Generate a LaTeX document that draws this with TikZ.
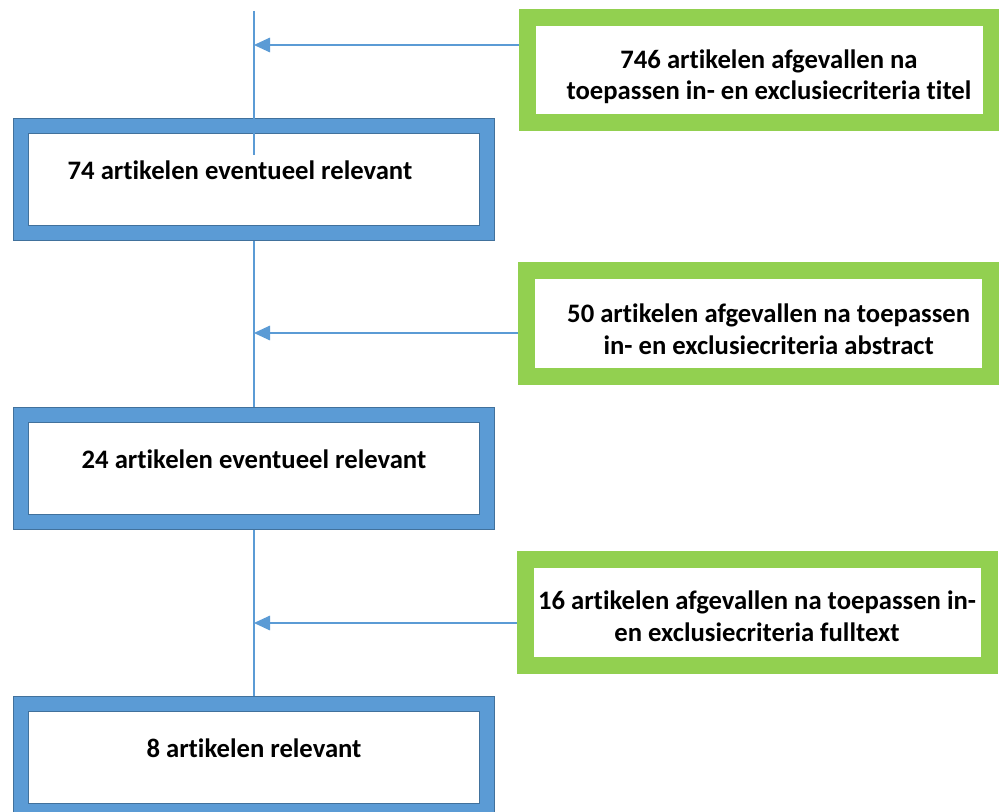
\documentclass[tikz,border=0pt]{standalone}
\usepackage{fontspec}
\setmainfont{Carlito}[Ligatures=NoCommon]
\usetikzlibrary{arrows.meta}
\usetikzlibrary{positioning}
\usetikzlibrary{backgrounds}

\definecolor{stepblue}{HTML}{5B9BD5}
\definecolor{stepedge}{HTML}{41719C}
\definecolor{dropgreen}{HTML}{92D050}

\tikzset{
  keepbox/.style={rectangle, fill=white, draw=stepedge, line width=0.9pt, double=stepblue, double distance=10.5pt, minimum width=349.5pt, minimum height=80.25pt, inner sep=0pt, outer sep=0pt},
  dropbox/.style={rectangle, fill=white, draw=dropgreen, line width=12.75pt, minimum width=348pt, minimum height=79pt, inner sep=0pt, outer sep=0pt},
  boxtext/.style={font=\bfseries\fontsize{20}{23.8}\selectfont, align=center, anchor=base, inner sep=0pt},
  flow/.style={draw=stepblue, line width=0.8pt},
  flowarrow/.style={flow, -{Triangle[length=12pt, width=11pt]}}
}

\begin{document}
\begin{tikzpicture}[x=0.75pt, y=-0.75pt, node distance=136.5pt]
    \useasboundingbox (0,0) rectangle (999,812);

    \node[keepbox] (keep1) at (254,179.5) {};
    \node[keepbox, below=of keep1] (keep2) {};
    \node[keepbox, below=of keep2] (keep3) {};

    \node[dropbox] (drop1) at (759,69.75) {};
    \node[dropbox] (drop2) at (758,323.5) {};
    \node[dropbox] (drop3) at (757,612.5) {};

    \node[boxtext] (keep1text) at ([xshift=-10.5pt]keep1.center) {74 artikelen eventueel relevant};
    \node[boxtext] (keep2text) at (keep2.center) {24 artikelen eventueel relevant};
    \node[boxtext] (keep3text) at (keep3.center) {8 artikelen relevant};

    % base anchor sits on the last line
    \node[boxtext] (drop1text) at ([xshift=7.5pt, yshift=-22.5pt]drop1.center) {746 artikelen afgevallen na\\toepassen in- en exclusiecriteria titel};
    \node[boxtext] (drop2text) at ([xshift=8pt, yshift=-23.1pt]drop2.center) {50 artikelen afgevallen na toepassen\\in- en exclusiecriteria abstract};
    \node[boxtext] (drop3text) at ([yshift=-21.9pt]drop3.center) {16 artikelen afgevallen na toepassen in-\\en exclusiecriteria fulltext};

    \coordinate (top) at (254,11);
    \coordinate (cut) at (254,155);
    \coordinate (j1) at (254,45);
    \coordinate (j2) at (254,333);
    \coordinate (j3) at (254,623);

    \draw[flow] (top) -- (cut);

    \begin{pgfonlayer}{background}
        \draw[flow] (keep1.south) -- (keep2.north);
        \draw[flow] (keep2.south) -- (keep3.north);
        \draw[flowarrow] (drop1.west |- j1) -- (j1);
        \draw[flowarrow] (drop2.west |- j2) -- (j2);
        \draw[flowarrow] (drop3.west |- j3) -- (j3);
    \end{pgfonlayer}
\end{tikzpicture}
\end{document}
